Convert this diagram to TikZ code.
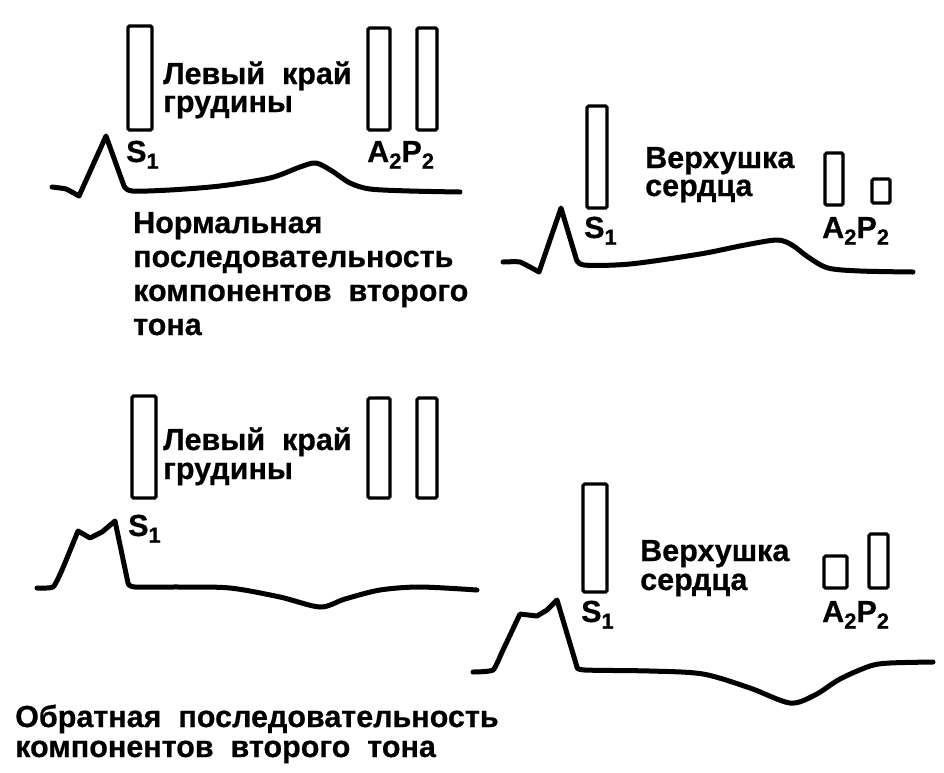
\documentclass[tikz,border=0pt]{standalone}
\usepackage{fontspec}
\setmainfont[WordSpace=2,BoldFeatures={FakeBold=0.6}]{Liberation Sans}
\newcommand{\subnum}[1]{\raisebox{-0.22em}{\fontsize{22}{22}\selectfont #1}}
\begin{document}
\begin{tikzpicture}[x=1pt,y=-1pt,
  lbl/.style={anchor=base west,inner sep=0pt,font=\fontsize{30.5}{34}\selectfont\bfseries},
  bar/.style={line width=3.2pt,rounded corners=1.5pt},
  wave/.style={line width=5pt,line join=round,line cap=round}]
\useasboundingbox (0,0) rectangle (944,772);
% ---------- panel 1
\draw[bar] (128,26) rectangle (152,130);
\draw[bar] (368,28) rectangle (390,130);
\draw[bar] (417,28) rectangle (437,130);
\node[lbl] (t1a) at (163,84) {Левый край};
\node[lbl] (t1b) at (163,112) {грудины};
\node[lbl] (s1a) at (126,162) {S\subnum{1}};
\node[lbl] (ap1) at (367,162) {A\subnum{2}P\subnum{2}};
\draw[wave] plot[smooth,tension=0.25] coordinates {(52,187) (66,189) (79,196)} -- (106,136) -- (124,186)
  plot[smooth,tension=0.5] coordinates {(124,186) (132,191) (170,190) (220,186) (270,178) (300,167) (316,163) (332,171) (350,183) (370,189) (410,191) (460,192)};
\node[lbl] (n1) at (133,233) {Нормальная};
\node[lbl] (n2) at (133,267) {последовательность};
\node[lbl] (n3) at (133,301) {компонентов второго};
\node[lbl] (n4) at (133,335) {тона};
% ---------- panel 2
\draw[bar] (587,106) rectangle (607,208);
\draw[bar] (825,153) rectangle (843,205);
\draw[bar] (872,179) rectangle (890,203);
\node[lbl] (t2a) at (645,168) {Верхушка};
\node[lbl] (t2b) at (645,196) {сердца};
\node[lbl] (s1b) at (584,238) {S\subnum{1}};
\node[lbl] (ap2) at (822,238) {A\subnum{2}P\subnum{2}};
\draw[wave] plot[smooth,tension=0.25] coordinates {(503,262) (520,262) (539,272)} -- (561,208) -- (576,258)
  plot[smooth,tension=0.5] coordinates {(576,258) (584,265) (630,264) (700,254) (745,245) (777,240) (792,245) (808,257) (828,268) (860,271) (913,272)};
% ---------- panel 3
\draw[bar] (132,396) rectangle (156,498);
\draw[bar] (368,398) rectangle (390,498);
\draw[bar] (417,398) rectangle (437,498);
\node[lbl] (t3a) at (163,450) {Левый край};
\node[lbl] (t3b) at (163,479) {грудины};
\node[lbl] (s1c) at (128,536) {S\subnum{1}};
\draw[wave] plot[smooth,tension=0.3] coordinates {(37,588) (53,587) (62,570) (78,531)} -- (90,538) -- (102,532) -- (115,521) -- (128,583)
  plot[smooth,tension=0.5] coordinates {(128,583) (135,587) (180,587) (230,588) (280,597) (320,607) (345,599) (380,590) (420,587) (477,590)};
% ---------- panel 4
\draw[bar] (583,484) rectangle (607,592);
\draw[bar] (824,556) rectangle (847,588);
\draw[bar] (869,534) rectangle (888,588);
\node[lbl] (t4a) at (640,561) {Верхушка};
\node[lbl] (t4b) at (640,590) {сердца};
\node[lbl] (s1d) at (581,622) {S\subnum{1}};
\node[lbl] (ap4) at (822,622) {A\subnum{2}P\subnum{2}};
\draw[wave] plot[smooth,tension=0.3] coordinates {(473,672) (493,670) (503,650) (520,614)} -- (537,616) -- (547,610) -- (557,600) -- (577,667)
  plot[smooth,tension=0.5] coordinates {(577,667) (585,670) (650,671) (703,674) (750,688) (790,703) (815,695) (840,679) (870,666) (890,663) (933,662)};
% ---------- bottom caption
\node[lbl] (b1) at (15,727) {Обратная последовательность};
\node[lbl] (b2) at (15,757) {компонентов второго тона};
\end{tikzpicture}
\end{document}
